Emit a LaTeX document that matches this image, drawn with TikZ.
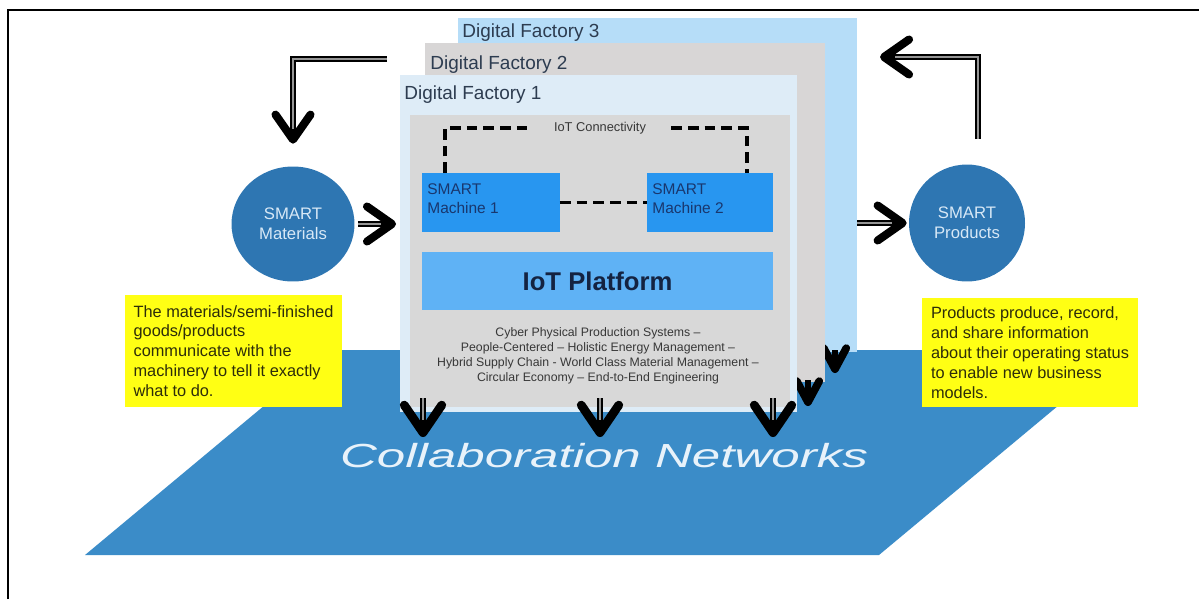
\documentclass[tikz,border=0pt]{standalone}
\usepackage{fontspec}
\setmainfont{Liberation Sans}
\usetikzlibrary{arrows.meta,shapes.geometric,positioning}

\definecolor{netblue}{RGB}{59,140,200}
\definecolor{netink}{RGB}{232,242,250}
\definecolor{df3blue}{RGB}{182,221,248}
\definecolor{df2gray}{RGB}{216,214,214}
\definecolor{df1blue}{RGB}{222,236,247}
\definecolor{panelgray}{RGB}{216,216,216}
\definecolor{machblue}{RGB}{40,150,240}
\definecolor{platblue}{RGB}{95,178,245}
\definecolor{smartblue}{RGB}{46,118,178}
\definecolor{smartink}{RGB}{215,232,246}
\definecolor{noteyellow}{RGB}{255,255,20}
\definecolor{noteink}{RGB}{45,45,10}
\definecolor{titleink}{RGB}{45,60,80}
\definecolor{machink}{RGB}{25,55,110}
\definecolor{platink}{RGB}{20,35,65}
\definecolor{descink}{RGB}{55,55,55}
\definecolor{flowgray}{RGB}{150,150,150}

\begin{document}
\begin{tikzpicture}[x=0.02cm, y=-0.02cm,
    box/.style = {rectangle, inner sep=0pt, outer sep=0pt},
    dftitle/.style = {anchor=north west, inner sep=0pt, text=titleink,
                      font=\fontsize{10.8}{13}\selectfont},
    mtext/.style = {anchor=north west, inner sep=0pt, align=left, text=machink,
                    font=\fontsize{8.8}{10.8}\selectfont},
    smart/.style = {ellipse, fill=smartblue, text=smartink, align=center, inner sep=0pt,
                    font=\fontsize{9.5}{11.3}\selectfont},
    note/.style = {box, fill=noteyellow, text=noteink, align=left,
                   font=\fontsize{9.3}{11.3}\selectfont},
    flow/.style = {line width=3.3pt, -{Straight Barb[length=0.5cm, width=0.7cm, line width=4.6pt, round]},
                   postaction={draw=flowgray, line width=1.5pt, -, shorten >=0.3cm}},
    drop/.style = {line width=3.3pt, -{Straight Barb[length=0.55cm, width=0.75cm, line width=5pt, round]},
                   postaction={draw=flowgray, line width=1.5pt, -, shorten >=0.35cm}},
    droplet/.style = {line width=3pt, -{Straight Barb[length=0.42cm, width=0.45cm, line width=4.4pt, round]}},
    link/.style = {line width=1.8pt, dash pattern=on 6pt off 3.5pt}]

  \useasboundingbox (0,0) rectangle (1199,599);
  \draw[line width=1.4pt] (8,599) -- (8,10) -- (1199,10);

  % collaboration plane
  \fill[netblue] (85,555) -- (879,555) -- (1125,350) -- (331,350) -- cycle;
  \node[text=netink, font=\fontsize{19}{22}\selectfont\itshape, xscale=1.53] (net) at (604,456)
    {Collaboration Networks};

  % factories
  \node[box, fill=df3blue, minimum width=7.98cm, minimum height=6.68cm] (df3) at (657.5,185) {};
  \node[dftitle] at ([xshift=0.08cm, yshift=-0.1cm]df3.north west) {Digital Factory 3};
  \coordinate (tip6) at (835,373);
  \coordinate (top6) at (835,350);
  \draw[droplet] (top6) -- (tip6);

  \node[box, fill=df2gray, minimum width=8cm, minimum height=6.78cm] (df2) at (625,212.5) {};
  \node[dftitle] at ([xshift=0.1cm, yshift=-0.24cm]df2.north west) {Digital Factory 2};
  \coordinate (tip5) at (808,406);
  \coordinate (top5) at (808,380);
  \draw[droplet] (top5) -- (tip5);

  \node[box, fill=df1blue, minimum width=7.94cm, minimum height=6.74cm] (df1) at (598.5,243.5) {};
  \node[dftitle] at ([xshift=0.08cm, yshift=-0.2cm]df1.north west) {Digital Factory 1};
  \node[box, fill=panelgray, minimum width=7.6cm, minimum height=5.84cm] (panel) at (600,261) {};

  % inside factory 1
  \node[box, fill=machblue, minimum width=2.76cm, minimum height=1.18cm] (mach1) at (491,202.5) {};
  \node[mtext] at ([xshift=0.1cm, yshift=-0.2cm]mach1.north west) {SMART\\Machine 1};
  \node[box, fill=machblue, minimum width=2.52cm, minimum height=1.18cm] (mach2) at (710,202.5) {};
  \node[mtext] at ([xshift=0.1cm, yshift=-0.2cm]mach2.north west) {SMART\\Machine 2};

  \node[font=\fontsize{7.3}{9}\selectfont, text=descink, inner xsep=0.5cm] (conn) at (600,128)
    {IoT Connectivity};
  \draw[link] ([xshift=0.46cm]mach1.north west) |- (conn.west);
  \draw[link] (conn.east) -| ([xshift=-0.52cm]mach2.north east);
  \draw[link] (mach1.east) -- (mach2.west);

  \node[box, fill=platblue, minimum width=7.02cm, minimum height=1.16cm, text=platink,
        font=\fontsize{14.6}{17}\selectfont\bfseries] (platform) at (597.5,281) {IoT Platform};

  \node[align=center, text=descink, font=\fontsize{7}{8.5}\selectfont] (desc) at (598,356)
    {Cyber Physical Production Systems --\\
     People-Centered -- Holistic Energy Management --\\
     Hybrid Supply Chain - World Class Material Management --\\
     Circular Economy -- End-to-End Engineering};

  \foreach \t/\px in {1/423, 2/600, 3/773} {
    \coordinate (tip\t) at (\px,437);
    \coordinate (top\t) at (\px,398);
    \draw[drop] (top\t) -- (tip\t);
  }

  % smart things
  \node[smart, minimum width=2.46cm, minimum height=2.3cm] (mat) at (293,224) {SMART\\Materials};
  \node[smart, minimum width=2.32cm, minimum height=2.34cm] (prod) at (967,223) {SMART\\Products};

  \coordinate (loopL) at (387,59);
  \coordinate (loopR) at (880,57);
  \draw[flow] (loopL) -| ([yshift=0.45cm]mat.north);
  \draw[flow] ([xshift=0.06cm]mat.east) -- ([xshift=-0.08cm]mat.east -| df1.west);
  \draw[flow] (prod.west -| df3.east) -- ([xshift=-0.04cm]prod.west);
  \draw[flow] ([xshift=0.22cm, yshift=0.5cm]prod.north) |- (loopR);

  % notes
  \node[note, minimum width=4.34cm, minimum height=2.24cm] (noteL) at (233.5,351)
    {The materials/semi-finished\\goods/products\\communicate with the\\machinery to tell it exactly\\what to do.};
  \node[note, minimum width=4.32cm, minimum height=2.18cm] (noteR) at (1030,352.5)
    {Products produce, record,\\and share information\\about their operating status\\to enable new business\\models.};
\end{tikzpicture}
\end{document}
